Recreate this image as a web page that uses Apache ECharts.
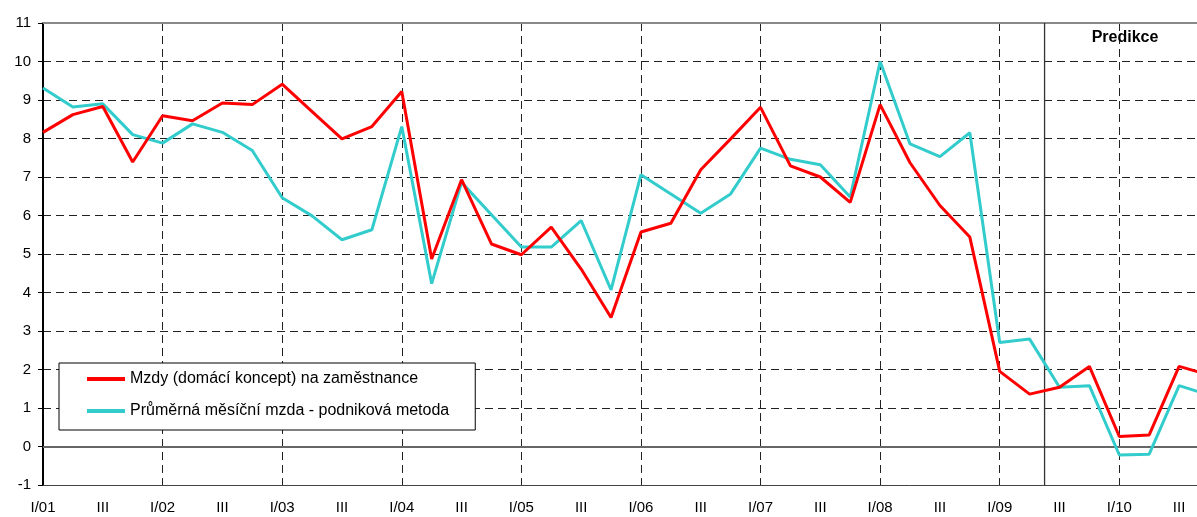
<!DOCTYPE html>
<html><head><meta charset="utf-8">
<script src="https://cdn.jsdelivr.net/npm/echarts@6/dist/echarts.min.js"></script>
<style>html,body{margin:0;padding:0;background:#fff;overflow:hidden}#c{width:1197px;height:517px}</style>
</head><body><div id="c"></div>
<script>
const years = ['01','02','03','04','05','06','07','08','09','10'];
const categories = [];
years.forEach(function (y) { categories.push('I/' + y, 'II', 'III', 'IV'); });

const seriesNames = ['Mzdy (domácí koncept) na zaměstnance', 'Průměrná měsíční mzda - podniková metoda'];
const mzdyDomaci = [8.16, 8.62, 8.83, 7.39, 8.59, 8.46, 8.92, 8.88, 9.41,
  8.70, 7.99, 8.31, 9.22, 4.87, 6.93, 5.26, 4.98, 5.70, 4.61, 3.35,
  5.57, 5.80, 7.19, 7.99, 8.81, 7.29, 7.00, 6.34, 8.88, 7.37, 6.26, 5.44,
  1.95, 1.36, 1.54, 2.08, 0.26, 0.30, 2.08, 1.86];
const mzdaPodnikova = [9.31, 8.82, 8.90, 8.10, 7.88, 8.38, 8.16, 7.69, 6.46,
  5.99, 5.37, 5.63, 8.31, 4.23, 6.86, 6.02, 5.18, 5.18, 5.87, 4.07,
  7.06, 6.56, 6.06, 6.56, 7.75, 7.46, 7.32, 6.48, 10.0, 7.86, 7.53, 8.15,
  2.70, 2.79, 1.54, 1.58, -0.22, -0.20, 1.58, 1.34];
const predictionStartIndex = 33.5; // between II/09 and III/09
const predictionLabel = 'Predikce';
const yMin = -1, yMax = 11, yStep = 1;

const FONT = 'Liberation Sans, Arial, sans-serif';
const chart = echarts.init(document.getElementById('c'), null, {renderer: 'canvas'});
const option = {
  animation: false,
  backgroundColor: '#fff',
  grid: {left: 43, top: 23, right: -12, bottom: 32, outerBoundsMode: 'none', containLabel: false},
  legend: {
    orient: 'vertical', left: 59, top: 363,
    backgroundColor: '#fff', borderColor: '#000', borderWidth: 1, borderRadius: 0,
    padding: [7, 26, 10, 28], itemGap: 14,
    itemWidth: 38, itemHeight: 4, icon: 'rect',
    textStyle: {fontFamily: FONT, fontSize: 16, color: '#000', lineHeight: 18},
    data: seriesNames
  },
  xAxis: [{
    type: 'category', data: categories, boundaryGap: false,
    axisLine: {show: true, onZero: false, lineStyle: {color: '#444', width: 1}},
    axisTick: {show: false},
    axisLabel: {interval: 1, margin: 15, fontFamily: FONT, fontSize: 15, color: '#000'},
    splitLine: {show: true, interval: function (i) { return i % 4 === 0 && i > 0; },
      lineStyle: {color: '#222', type: [8, 5], width: 1}}
  }, {
    type: 'category', data: categories, boundaryGap: false, position: 'top',
    axisLine: {show: true, onZero: false, lineStyle: {color: '#888', width: 2}},
    axisTick: {show: false}, axisLabel: {show: false}, splitLine: {show: false}
  }],
  yAxis: {
    type: 'value', min: yMin, max: yMax, interval: yStep,
    axisLine: {show: true, onZero: false, lineStyle: {color: '#000', width: 2}},
    axisTick: {show: true, length: 5, lineStyle: {color: '#000'}},
    axisLabel: {margin: 12, fontFamily: FONT, fontSize: 15, color: '#000'},
    splitLine: {show: true, lineStyle: {color: '#222', type: [8, 5], width: 1}}
  },
  series: [{
    name: seriesNames[0], type: 'line', data: mzdyDomaci, symbol: 'none',
    lineStyle: {color: '#FF0000', width: 3}, itemStyle: {color: '#FF0000'}, z: 4,
    markLine: {silent: true, symbol: 'none', label: {show: false},
      lineStyle: {color: '#666', type: 'solid', width: 2}, data: [{yAxis: 0}], z: 1}
  }, {
    name: seriesNames[1], type: 'line', data: mzdaPodnikova, symbol: 'none',
    lineStyle: {color: '#33CCCC', width: 3}, itemStyle: {color: '#33CCCC'}, z: 3
  }]
};
chart.setOption(option);
const p0 = chart.convertToPixel({xAxisIndex: 0, yAxisIndex: 0}, [Math.floor(predictionStartIndex), yMax]);
const p1 = chart.convertToPixel({xAxisIndex: 0, yAxisIndex: 0}, [Math.ceil(predictionStartIndex), yMin]);
const px = (p0[0] + p1[0]) / 2;
chart.setOption({
  graphic: [{
    type: 'line', silent: true, z: 2,
    shape: {x1: px, y1: p0[1], x2: px, y2: p1[1]},
    style: {stroke: '#333', lineWidth: 1.3}
  }, {
    type: 'text', silent: true, z: 5, x: 1125, y: 38,
    style: {text: predictionLabel, fontFamily: FONT, fontSize: 16, fontWeight: 'bold',
      fill: '#000', align: 'center', verticalAlign: 'middle'}
  }]
});
</script></body></html>
